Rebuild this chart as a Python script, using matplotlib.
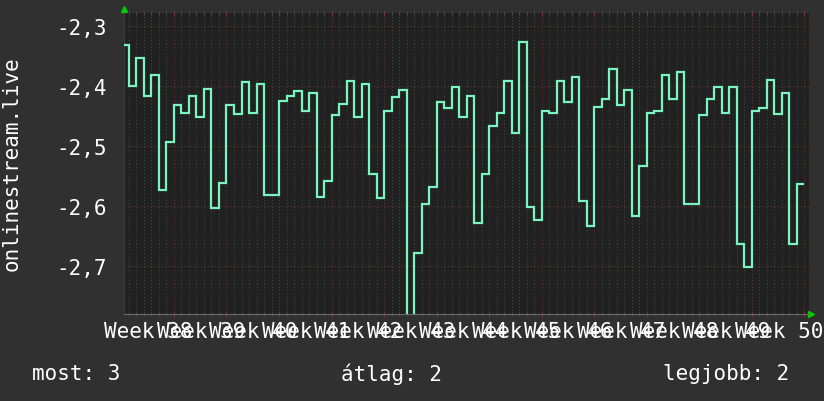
import matplotlib.pyplot as plt
import numpy as np

# daily values, first value is the day before the visible window starts
values = [-2.332, -2.399, -2.353, -2.416, -2.381, -2.573, -2.493,
          -2.432, -2.444, -2.417, -2.451, -2.405, -2.604, -2.561,
          -2.431, -2.447, -2.393, -2.444, -2.397, -2.581, -2.581,
          -2.424, -2.416, -2.408, -2.441, -2.411, -2.585, -2.559,
          -2.449, -2.429, -2.391, -2.451, -2.397, -2.546, -2.586,
          -2.441, -2.418, -2.407, -2.900, -2.679, -2.597, -2.568,
          -2.427, -2.436, -2.401, -2.452, -2.417, -2.629, -2.546,
          -2.466, -2.444, -2.392, -2.479, -2.326, -2.601, -2.624,
          -2.442, -2.444, -2.391, -2.426, -2.384, -2.591, -2.633,
          -2.434, -2.421, -2.372, -2.431, -2.406, -2.617, -2.534,
          -2.444, -2.441, -2.381, -2.422, -2.376, -2.597, -2.596,
          -2.448, -2.422, -2.402, -2.445, -2.401, -2.664, -2.702,
          -2.441, -2.437, -2.389, -2.447, -2.412, -2.664, -2.564]
first_day = -7
weeks = list(range(38, 51))
y_ticks = [-2.3, -2.4, -2.5, -2.6, -2.7]
y_labels = ['-2,3', '-2,4', '-2,5', '-2,6', '-2,7']
ylabel = 'onlinestream.live'
legend = ['most: 3', 'átlag: 2', 'legjobb: 2']

BG = '#303030'
PLOT_BG = '#212121'
LINE = '#7af5bf'
FG = '#ffffff'
MONO = 'DejaVu Sans Mono'
MINOR = '#454545'
MAJOR = '#5e3434'

edges = np.arange(first_day, first_day + len(values) + 1)

fig = plt.figure(figsize=(8.24, 4.02), dpi=100, facecolor=BG)
W, H = 824, 402
ax = fig.add_axes([124 / W, 1 - 315 / H, (809 - 124) / W, (315 - 13.5) / H])
ax.set_facecolor(PLOT_BG)

# grid: daily minor lines, weekly major lines
for d in range(-6, 85):
    if d % 7 == 0:
        continue
    ax.axvline(d, color=MINOR, lw=0.8, ls=(0, (1, 2)), zorder=1)
for d in range(0, 85, 7):
    ax.axvline(d, color=MAJOR, lw=0.8, ls=(0, (1, 2)), zorder=1)
for v in y_ticks:
    ax.axhline(v, color=MAJOR, lw=0.8, ls=(0, (1, 2)), zorder=1)

ax.stairs(values, edges, baseline=None, color=LINE, lw=1.6, zorder=3)

ax.set_xlim(-6.66, 84.63)
ax.set_ylim(-2.7805, -2.277)

for s in ax.spines.values():
    s.set_visible(False)
ax.spines['bottom'].set_visible(True)
ax.spines['bottom'].set_color('#6a6a6a')
ax.spines['left'].set_visible(True)
ax.spines['left'].set_color('#3c3c3c')

ax.set_xticks(list(range(0, 85, 7)))
ax.set_xticks(list(range(-6, 85)), minor=True)
ax.tick_params(axis='x', which='both', top=True, bottom=True, direction='inout',
               labelbottom=False)
ax.tick_params(axis='x', which='major', length=4, color='#6e3636')
ax.tick_params(axis='x', which='minor', length=3, color='#4e4e4e')
ax.set_yticks(y_ticks)
ax.set_yticklabels(y_labels, family=MONO, fontsize=15, color=FG)
ax.tick_params(axis='y', length=0, pad=12)

# week labels
for i, wk in enumerate(weeks):
    ax.text(7 * i - 3.4, -0.055, f'Week {wk}', transform=ax.get_xaxis_transform(),
            ha='center', va='center', family=MONO, fontsize=15, color=FG)

# axis arrows
ax.plot([0], [1.01], marker='^', color='#00cc00', ms=5, transform=ax.transAxes,
        clip_on=False)
ax.plot([1.003], [0], marker='>', color='#00cc00', ms=5, transform=ax.transAxes,
        clip_on=False)

fig.text(12 / W, 1 - 164 / H, ylabel, rotation=90, ha='center', va='center',
         family=MONO, fontsize=15, color=FG)

for x, txt in zip([32, 341, 663], legend):
    fig.text(x / W, 1 - 374 / H, txt, ha='left', va='center',
             family=MONO, fontsize=15, color=FG)

fig.savefig('out.png', dpi=100, facecolor=BG)
